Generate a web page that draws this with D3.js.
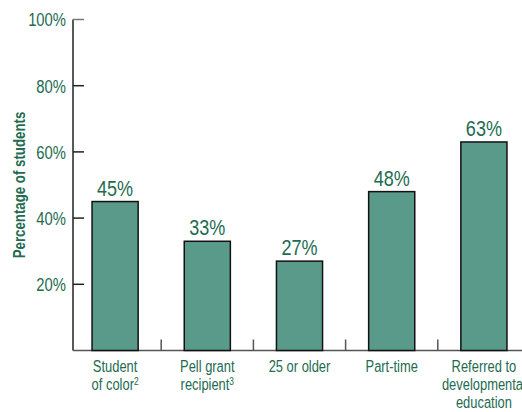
<!DOCTYPE html>
<html>
<head>
<meta charset="utf-8">
<script src="https://cdn.jsdelivr.net/npm/d3@7"></script>
<style>
  body { margin: 0; background: #fff; }
  svg text { font-family: "Liberation Sans", Arial, sans-serif; }
</style>
</head>
<body>
<div id="chart"></div>
<script>
// Data
const categories = ["Student of color", "Pell grant recipient", "25 or older", "Part-time", "Referred to developmental education"];
const labelLines = [["Student", "of color"], ["Pell grant", "recipient"], ["25 or older"], ["Part-time"], ["Referred to", "developmental", "education"]];
const superscripts = ["2", "3", "", "", ""];
const values = [45, 33, 27, 48, 63];
const yTicks = [20, 40, 60, 80, 100];

const width = 522;
const height = 412;
const green = "#226b50";
const barFill = "#5a9a8a";
const squeeze = 0.78; // condensed look

const svg = d3.select("#chart")
    .append("svg")
    .attr("width", width)
    .attr("height", height);

const x = d3.scaleBand()
    .domain(categories)
    .range([69, 530])
    .paddingInner(0.5)
    .paddingOuter(0.25);

const y = d3.scaleLinear()
    .domain([0, 100])
    .range([350.5, 19.5]);

// Y axis
svg.append("line")
    .attr("x1", 73).attr("x2", 73)
    .attr("y1", y(100)).attr("y2", y(0))
    .attr("stroke", "#222").attr("stroke-width", 1.5);

svg.append("g")
    .selectAll("line")
    .data(yTicks)
    .enter()
    .append("line")
    .attr("x1", 73).attr("x2", 84)
    .attr("y1", d => y(d)).attr("y2", d => y(d))
    .attr("stroke", d => d === 100 ? "#777" : "#222")
    .attr("stroke-width", 1.5);

svg.append("g")
    .selectAll("text")
    .data(yTicks)
    .enter()
    .append("text")
    .attr("transform", d => `translate(66, ${y(d) + 6.8}) scale(${squeeze}, 1)`)
    .attr("text-anchor", "end")
    .attr("fill", green)
    .style("font-size", "19px")
    .text(d => d + "%");

svg.append("text")
    .attr("transform", `translate(25, 185) rotate(-90) scale(${squeeze}, 1)`)
    .attr("text-anchor", "middle")
    .attr("fill", green)
    .style("font-size", "17px")
    .style("font-weight", "bold")
    .text("Percentage of students");

// X axis
svg.append("line")
    .attr("x1", 73).attr("x2", width)
    .attr("y1", y(0)).attr("y2", y(0))
    .attr("stroke", "#555").attr("stroke-width", 1.5);

const step = x.step();
svg.append("g")
    .selectAll("line")
    .data(categories.slice(1))
    .enter()
    .append("line")
    .attr("x1", d => x(d) + x.bandwidth() / 2 - step / 2)
    .attr("x2", d => x(d) + x.bandwidth() / 2 - step / 2)
    .attr("y1", y(0) - 11).attr("y2", y(0))
    .attr("stroke", "#555").attr("stroke-width", 1.5);

// Bars
svg.append("g")
    .selectAll("rect")
    .data(values)
    .enter()
    .append("rect")
    .attr("x", (d, i) => x(categories[i]))
    .attr("y", d => y(d))
    .attr("width", x.bandwidth())
    .attr("height", d => y(0) - y(d))
    .attr("fill", barFill)
    .attr("stroke", "#111")
    .attr("stroke-width", 1.5);

// Value labels
svg.append("g")
    .selectAll("text")
    .data(values)
    .enter()
    .append("text")
    .attr("transform", (d, i) => `translate(${x(categories[i]) + x.bandwidth() / 2}, ${y(d) - 6}) scale(0.82, 1)`)
    .attr("text-anchor", "middle")
    .attr("fill", green)
    .style("font-size", "22px")
    .text(d => d + "%");

// Category labels
svg.append("g")
    .selectAll("text")
    .data(categories)
    .enter()
    .append("text")
    .attr("transform", d => `translate(${x(d) + x.bandwidth() / 2}, 372) scale(0.76, 1)`)
    .attr("text-anchor", "middle")
    .attr("fill", green)
    .style("font-size", "17px")
    .each(function (d, i) {
        const lines = labelLines[i];
        lines.forEach((line, j) => {
            d3.select(this).append("tspan")
                .attr("x", 0)
                .attr("y", j * 18)
                .text(line);
            if (j === lines.length - 1 && superscripts[i]) {
                d3.select(this).append("tspan")
                    .attr("dy", -5)
                    .style("font-size", "11px")
                    .text(superscripts[i]);
            }
        });
    });
</script>
</body>
</html>
